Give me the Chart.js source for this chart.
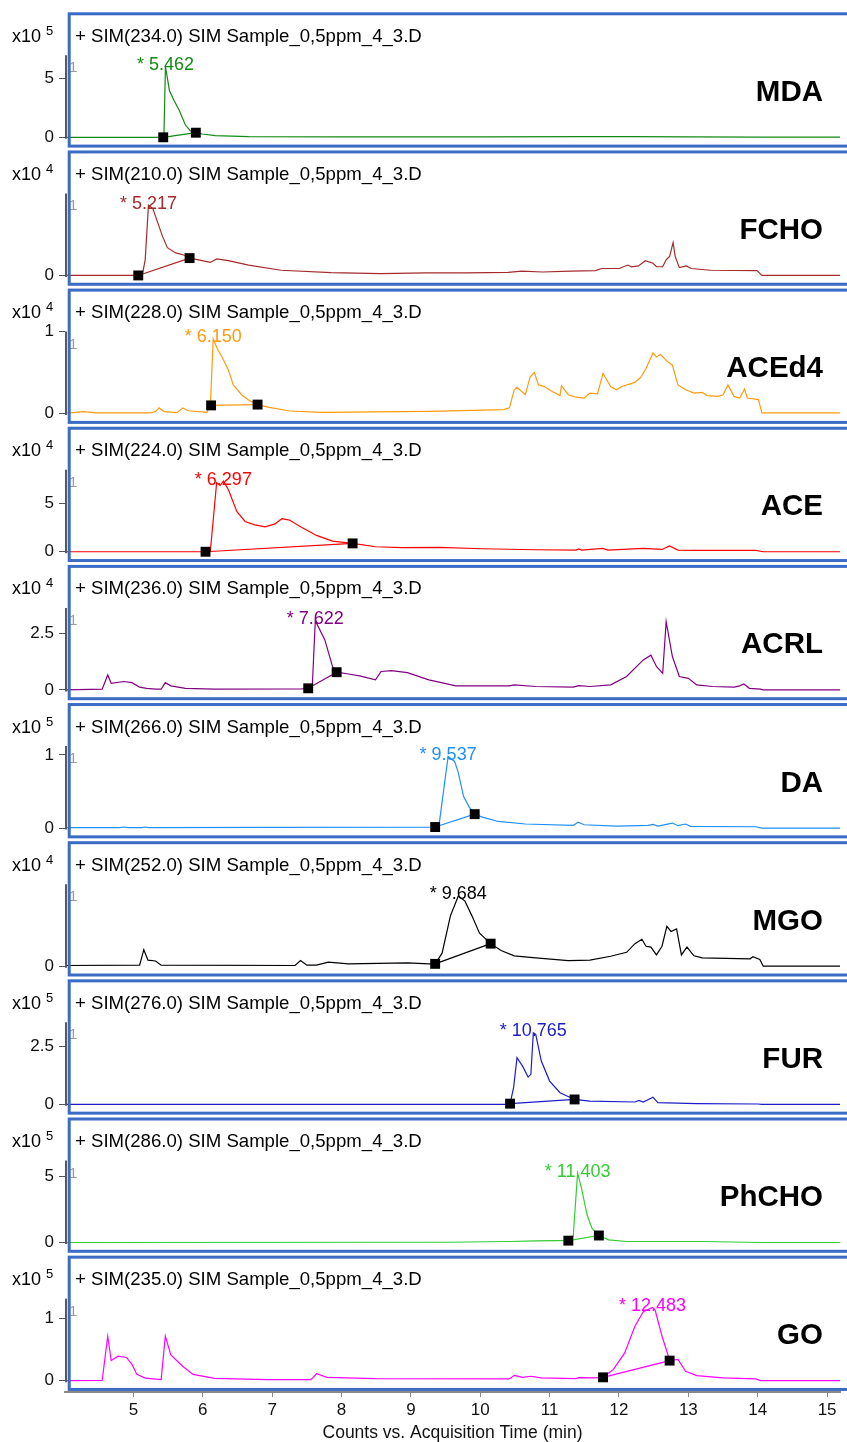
<!DOCTYPE html>
<html>
<head>
<meta charset="utf-8">
<script src="https://cdn.jsdelivr.net/npm/chart.js@4.4.1/dist/chart.umd.min.js"></script>
<style>
html,body{margin:0;padding:0;background:#fff;}
#wrap{position:relative;width:847px;height:1442px;overflow:hidden;background:#fff;}
#wrap canvas{position:absolute;left:0;top:0;}
</style>
</head>
<body>
<div id="wrap"></div>
<script>
// ---------------- DATA ----------------
const compounds = ['MDA','FCHO','ACEd4','ACE','ACRL','DA','MGO','FUR','PhCHO','GO'];
const simIons   = ['234.0','210.0','228.0','224.0','236.0','266.0','252.0','276.0','286.0','235.0'];
const exponents = [5,4,4,4,4,5,4,5,5,5];
const yTickValues = [[0,5],[0],[0,1],[0,5],[0,2.5],[0,1],[0],[0,2.5],[0,5],[0,1]];
const yMaxValues  = [6.95,0.945,1.0,8.54,3.61,1.12,0.945,3.52,6.21,1.31];
const peakTimes   = [5.462,5.217,6.150,6.297,7.622,9.537,9.684,10.765,11.403,12.483];
const xTickValues = [5,6,7,8,9,10,11,12,13,14,15];

const mdaTime   = [4.02,5.42,5.44,5.462,5.52,5.59,5.66,5.75,5.82,5.90,5.99,6.18,6.66,8.0,10.0,11.5,12.2,13.0,14.0,15.19];
const mdaCounts = [0,0,0.1,6.0,3.95,3.07,2.3,1.04,0.56,0.39,0.28,0.14,0.05,0.03,0.03,0.05,0.06,0.04,0.02,0.02];

const fchoTime   = [4.02,5.07,5.13,5.17,5.217,5.28,5.42,5.49,5.61,5.75,5.81,5.94,6.11,6.20,6.37,6.66,7.13,7.85,8.56,9.23,9.8,10.4,10.6,10.9,11.3,11.66,11.75,12.0,12.13,12.18,12.28,12.38,12.49,12.54,12.63,12.68,12.73,12.78,12.81,12.87,12.97,13.04,13.32,13.99,14.06,15.19];
const fchoCounts = [0,0,0.01,0.18,0.81,0.77,0.45,0.32,0.26,0.23,0.2,0.18,0.15,0.19,0.17,0.12,0.06,0.033,0.02,0.03,0.03,0.035,0.05,0.04,0.05,0.055,0.08,0.08,0.12,0.1,0.11,0.17,0.14,0.1,0.1,0.18,0.22,0.38,0.22,0.09,0.11,0.08,0.06,0.055,0,0];

const aced4Time   = [4.02,4.09,4.28,4.47,5.24,5.32,5.37,5.44,5.63,5.71,5.79,6.06,6.11,6.15,6.21,6.29,6.37,6.44,6.56,6.67,6.79,6.94,7.25,7.72,9.26,10.34,10.42,10.49,10.53,10.65,10.72,10.78,10.84,10.92,11.04,11.15,11.17,11.27,11.38,11.5,11.58,11.69,11.77,11.88,11.96,12.04,12.15,12.23,12.31,12.39,12.49,12.54,12.6,12.69,12.77,12.85,12.96,13.08,13.2,13.27,13.43,13.5,13.57,13.66,13.74,13.81,13.85,14.01,14.06,15.19];
const aced4Counts = [0.01,0.01,0.025,0.01,0.01,0.025,0.07,0.025,0.012,0.07,0.035,0.015,0.1,0.91,0.79,0.67,0.53,0.35,0.23,0.16,0.11,0.08,0.032,0.016,0.028,0.048,0.07,0.29,0.32,0.23,0.45,0.5,0.35,0.33,0.27,0.22,0.34,0.23,0.2,0.19,0.25,0.24,0.49,0.33,0.29,0.33,0.36,0.38,0.44,0.55,0.74,0.69,0.72,0.64,0.59,0.35,0.29,0.25,0.26,0.22,0.21,0.23,0.35,0.21,0.19,0.3,0.19,0.17,0.01,0.01];

const aceTime   = [4.02,6.04,6.11,6.20,6.25,6.297,6.37,6.49,6.61,6.75,6.90,7.04,7.14,7.25,7.41,7.64,7.87,8.16,8.49,8.87,9.41,10.03,10.8,11.38,11.42,11.46,11.77,11.84,12.35,12.62,12.73,12.85,13.12,13.97,14.08,15.19];
const aceCounts = [0,0,0.1,7.2,6.9,7.35,6.45,4.2,3.15,2.8,2.6,2.9,3.44,3.3,2.6,1.7,1.1,0.87,0.52,0.42,0.45,0.31,0.21,0.17,0.3,0.17,0.35,0.17,0.35,0.24,0.6,0.17,0.14,0.14,0,0];

const acrlTime   = [4.02,4.55,4.63,4.68,4.86,4.98,5.09,5.19,5.32,5.40,5.46,5.54,5.75,6.17,7.41,7.52,7.58,7.622,7.76,7.87,7.93,8.10,8.26,8.49,8.57,8.72,8.95,9.26,9.65,10.42,10.49,10.8,11.34,11.42,11.58,11.88,12.11,12.35,12.46,12.54,12.63,12.68,12.77,12.87,13.0,13.12,13.35,13.66,13.74,13.8,13.88,14.04,14.08,15.19];
const acrlCounts = [0,0.03,0.66,0.29,0.37,0.32,0.12,0.07,0.03,0.03,0.32,0.18,0.07,0.03,0.04,0.07,0.22,3.05,2.2,1.03,0.78,0.7,0.62,0.44,0.81,0.85,0.76,0.44,0.18,0.18,0.22,0.15,0.12,0.19,0.15,0.22,0.59,1.32,1.53,1.03,0.73,3.0,1.47,0.59,0.51,0.22,0.15,0.12,0.18,0.26,0.07,0.03,0,0];

const daTime   = [4.02,4.80,4.86,4.92,5.12,5.17,5.22,7.0,9.30,9.35,9.41,9.537,9.63,9.68,9.76,9.84,9.92,10.03,10.26,10.65,11.34,11.41,11.5,11.96,12.42,12.49,12.56,12.77,12.85,12.96,13.03,13.97,14.06,15.19];
const daCounts = [0.005,0.005,0.014,0.005,0.005,0.014,0.005,0.008,0.012,0.014,0.07,0.98,0.91,0.77,0.43,0.29,0.19,0.15,0.09,0.055,0.036,0.08,0.045,0.027,0.036,0.05,0.027,0.068,0.032,0.055,0.023,0.018,0,0];

const mgoTime   = [4.02,5.09,5.15,5.21,5.32,5.40,7.33,7.41,7.50,7.64,7.81,8.10,8.95,9.26,9.35,9.45,9.57,9.684,9.78,9.88,9.99,10.15,10.30,10.49,10.8,11.27,11.58,11.88,12.11,12.23,12.33,12.39,12.46,12.54,12.62,12.69,12.75,12.83,12.9,12.98,13.08,13.2,13.89,13.93,14.03,14.08,15.19];
const mgoCounts = [0.008,0.012,0.19,0.07,0.06,0.012,0.008,0.065,0.012,0.012,0.046,0.027,0.038,0.027,0.027,0.15,0.58,0.81,0.75,0.58,0.38,0.26,0.18,0.12,0.096,0.065,0.07,0.115,0.16,0.26,0.31,0.23,0.22,0.13,0.23,0.46,0.4,0.43,0.13,0.22,0.12,0.096,0.085,0.11,0.077,0,0];

const furTime   = [4.02,10.38,10.43,10.48,10.53,10.61,10.69,10.73,10.765,10.80,10.88,11.0,11.15,11.36,11.58,12.23,12.29,12.35,12.49,12.56,13.12,14.0,14.06,15.19];
const furCounts = [0,0,0.03,0.71,2.0,1.64,1.17,1.29,3.07,3.0,1.86,1.0,0.5,0.21,0.14,0.1,0.17,0.1,0.31,0.07,0.03,0.015,0,0];

const phchoTime   = [4.02,9.5,10.42,10.8,11.11,11.27,11.34,11.403,11.46,11.54,11.61,11.71,11.85,12.11,13.2,14.06,15.19];
const phchoCounts = [0,0.02,0.076,0.13,0.14,0.16,0.45,5.25,4.1,2.1,1.09,0.53,0.2,0.076,0.076,0,0];

const goTime   = [4.02,4.55,4.63,4.68,4.78,4.90,4.98,5.05,5.17,5.40,5.46,5.54,5.71,5.86,6.17,6.94,7.56,7.64,7.79,8.49,10.42,10.49,10.61,10.73,10.88,11.38,11.42,11.65,11.77,11.92,12.08,12.23,12.35,12.483,12.52,12.62,12.69,12.73,12.85,12.96,13.12,13.5,13.97,14.04,15.19];
const goCounts = [0,0.005,0.71,0.32,0.39,0.37,0.26,0.1,0.04,0.016,0.71,0.41,0.23,0.1,0.037,0.016,0.016,0.11,0.053,0.032,0.027,0.085,0.053,0.07,0.043,0.032,0.048,0.043,0.053,0.18,0.44,0.87,1.1,1.17,1.13,0.71,0.47,0.32,0.34,0.15,0.08,0.043,0.027,0,0];

const markerTimes  = [[5.43,5.90],[5.07,5.81],[6.12,6.79],[6.04,8.16],[7.52,7.93],[9.35,9.92],[9.35,10.15],[10.43,11.36],[11.27,11.71],[11.77,12.73]];
const markerCounts = [[0,0.39],[0,0.2],[0.1,0.11],[0,0.87],[0.07,0.78],[0.014,0.19],[0.027,0.26],[0.03,0.21],[0.14,0.53],[0.053,0.32]];

const seriesTimes  = [mdaTime,fchoTime,aced4Time,aceTime,acrlTime,daTime,mgoTime,furTime,phchoTime,goTime];
const seriesCounts = [mdaCounts,fchoCounts,aced4Counts,aceCounts,acrlCounts,daCounts,mgoCounts,furCounts,phchoCounts,goCounts];

// ---------------- STYLE / LAYOUT ----------------
const colors = ['#138a13','#a52a2a','#ff9a10','#ff0000','#800080','#1e90ff','#000000','#1c1cc8','#33cc33','#ff00ff'];
const FONT = "'Liberation Sans', Arial, Helvetica, sans-serif";
const W = 847, H = 1442;
const PANEL_TOP0 = 13.8, PANEL_STEP = 138.15, FRAME_H = 132.3;
const X_MIN = 4.014, X_MAX = 15.186;
const X_AXIS_Y = 1392;
const AXIS_LEFT = 65;

const deco = {
  id: 'panelDeco',
  afterDatasetsDraw(chart, args, opts) {
    const i = opts.idx, ctx = chart.ctx;
    const xs = chart.scales.x, ys = chart.scales.y;
    const tData = seriesTimes[i], vData = seriesCounts[i];
    let best = 0;
    for (let k = 0; k < tData.length; k++) {
      if (Math.abs(tData[k] - peakTimes[i]) < 0.08 && vData[k] > best) best = vData[k];
    }
    const px = xs.getPixelForValue(peakTimes[i]);
    const py = ys.getPixelForValue(best);
    ctx.save();
    ctx.font = '18px ' + FONT;
    ctx.fillStyle = colors[i];
    ctx.textAlign = 'center';
    ctx.textBaseline = 'alphabetic';
    ctx.fillText('* ' + peakTimes[i].toFixed(3), px, py + 3.5);
    ctx.restore();
  },
  afterDraw(chart, args, opts) {
    const i = opts.idx, ctx = chart.ctx;
    const ys = chart.scales.y;
    const T = PANEL_TOP0 + i * PANEL_STEP;
    const left = chart.chartArea.left;
    const zeroPx = ys.getPixelForValue(0), topPx = ys.getPixelForValue(yMaxValues[i]);
    ctx.save();
    // y axis line
    ctx.strokeStyle = '#5a5a5a';
    ctx.lineWidth = 2;
    ctx.beginPath();
    ctx.moveTo(left + 1, topPx);
    ctx.lineTo(left + 1, zeroPx + 1.5);
    ctx.stroke();
    // small grey marker "1"
    ctx.fillStyle = '#9a9a9a';
    ctx.font = '15px ' + FONT;
    ctx.textAlign = 'left';
    ctx.textBaseline = 'alphabetic';
    ctx.fillText('1', left + 4, topPx + 17);
    // frame
    ctx.strokeStyle = '#3a6cc6';
    ctx.lineWidth = 3;
    ctx.strokeRect(69.2, T, W, FRAME_H);
    // title
    ctx.fillStyle = '#000';
    ctx.font = '18.6px ' + FONT;
    ctx.fillText('+ SIM(' + simIons[i] + ') SIM Sample_0,5ppm_4_3.D', 75, T + 28);
    // exponent label
    ctx.font = '18px ' + FONT;
    ctx.fillText('x10', 12, T + 28);
    ctx.font = '13px ' + FONT;
    ctx.fillText(String(exponents[i]), 46, T + 21);
    // compound label
    ctx.font = 'bold 29.5px ' + FONT;
    ctx.textAlign = 'right';
    ctx.fillText(compounds[i], 823, T + 87);
    ctx.restore();
  }
};

const wrap = document.getElementById('wrap');
compounds.forEach((name, i) => {
  const cv = document.createElement('canvas');
  cv.width = W; cv.height = H;
  cv.style.width = W + 'px'; cv.style.height = H + 'px';
  wrap.appendChild(cv);
  const T = PANEL_TOP0 + i * PANEL_STEP;
  const isLast = i === compounds.length - 1;
  const areaTop = T + 41.5;
  const zeroY = T + 123.5;
  const areaBottom = isLast ? X_AXIS_Y : zeroY + 1.5;
  const pxPerUnit = 82 / yMaxValues[i];
  const yMin = -(areaBottom - zeroY) / pxPerUnit;
  new Chart(cv, {
    type: 'line',
    data: {
      datasets: [
        {
          data: markerTimes[i].map((t, k) => ({ x: t, y: markerCounts[i][k] })),
          borderColor: colors[i], borderWidth: 1.2,
          pointRadius: 7, pointStyle: 'rect',
          pointBackgroundColor: '#000', pointBorderColor: '#000', pointBorderWidth: 0,
          tension: 0, clip: false, order: 0
        },
        {
          data: seriesTimes[i].map((t, k) => ({ x: t, y: seriesCounts[i][k] })),
          borderColor: colors[i], borderWidth: 1.2,
          pointRadius: 0, tension: 0, order: 1
        }
      ]
    },
    options: {
      responsive: false, animation: false, devicePixelRatio: 1, events: [],
      layout: { padding: { top: areaTop, bottom: isLast ? 0 : H - areaBottom, left: 0, right: 0 } },
      plugins: { legend: { display: false }, tooltip: { enabled: false }, panelDeco: { idx: i } },
      scales: {
        x: {
          type: 'linear', min: X_MIN, max: X_MAX, display: isLast, position: 'bottom',
          afterBuildTicks: s => { s.ticks = xTickValues.map(v => ({ value: v })); },
          afterFit: s => { if (isLast) s.height = H - X_AXIS_Y; },
          ticks: { font: { size: 17, family: FONT }, color: '#111', padding: 3, maxRotation: 0, autoSkip: false },
          grid: { display: true, drawOnChartArea: false, drawTicks: true, tickLength: 5, color: '#888' },
          border: { display: true, color: '#888', width: 2 },
          title: { display: true, text: 'Counts vs. Acquisition Time (min)', color: '#111',
                   font: { size: 17.5, family: FONT, lineHeight: 1 }, padding: { top: 0, bottom: 0 } }
        },
        y: {
          type: 'linear', min: yMin, max: yMaxValues[i], position: 'left',
          afterFit: s => { s.width = AXIS_LEFT; },
          afterBuildTicks: s => { s.ticks = yTickValues[i].map(v => ({ value: v })); },
          ticks: { font: { size: 17, family: FONT }, color: '#111', padding: 5, callback: v => String(v) },
          grid: { display: true, drawOnChartArea: false, drawTicks: true, tickLength: 6, color: '#555' },
          border: { display: false }
        }
      }
    },
    plugins: [deco]
  });
});
</script>
</body>
</html>
